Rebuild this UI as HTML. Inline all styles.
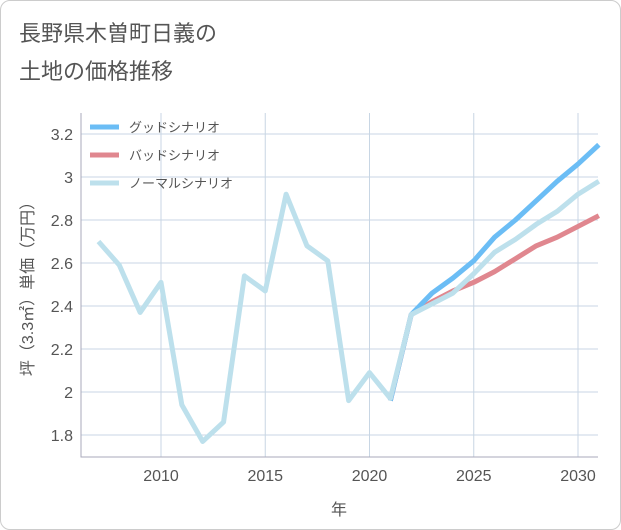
<!DOCTYPE html>
<html><head><meta charset="utf-8"><style>
body{margin:0;background:#fff;font-family:"Liberation Sans","Noto Sans CJK JP",sans-serif}
#wrap{position:relative;width:619px;height:528px;border:1px solid #ccc;border-radius:10px;background:#fff;overflow:hidden}
</style></head><body>
<div id="wrap">
<svg id="c" width="621" height="530"></svg>
</div>
<script>
const years=[2007,2008,2009,2010,2011,2012,2013,2014,2015,2016,2017,2018,2019,2020,2021,2022,2023,2024,2025,2026,2027,2028,2029,2030,2031];
const normal=[2.70,2.59,2.37,2.51,1.94,1.77,1.86,2.54,2.47,2.92,2.68,2.61,1.96,2.09,1.97,2.36,2.41,2.46,2.55,2.65,2.71,2.78,2.84,2.92,2.98];
const goodYears=[2021,2022,2023,2024,2025,2026,2027,2028,2029,2030,2031];
const good=[1.96,2.36,2.46,2.53,2.61,2.72,2.80,2.89,2.98,3.06,3.15];
const bad=[1.96,2.36,2.42,2.47,2.51,2.56,2.62,2.68,2.72,2.77,2.82];
const yTicks=[1.8,2,2.2,2.4,2.6,2.8,3,3.2];
const xTicks=[2010,2015,2020,2025,2030];
const NS="http://www.w3.org/2000/svg",svg=document.getElementById('c');
const L=80,R=597,T=112,B=456;
const x=v=>160+(v-2010)*(577-160)/20;
const y=v=>434-(v-1.8)*(434-133)/1.4;
function mk(t,a,p){const e=document.createElementNS(NS,t);for(const k in a)e.setAttribute(k,a[k]);(p||svg).appendChild(e);return e;}
const title=mk('text',{x:18,y:40,'font-size':22,fill:'#555'});


title.innerHTML='<tspan x="18" y="40">長野県木曽町日義の</tspan><tspan x="18" y="78">土地の価格推移</tspan>';
for(const t of yTicks){const g=mk('line',{x1:L,x2:R,y1:y(t),y2:y(t),stroke:'#c8d6e4'});


const tx=mk('text',{x:72,y:y(t)+6,'font-size':16,fill:'#555','text-anchor':'end'});tx.textContent=String(t);

}
for(const t of xTicks){const g=mk('line',{x1:x(t),x2:x(t),y1:T,y2:B,stroke:'#c8d6e4'});


const tx=mk('text',{x:x(t),y:480,'font-size':16,fill:'#555','text-anchor':'middle'});tx.textContent=t;

}
const ax=mk('path',{d:`M${L},${T}V${B}H${R}`,stroke:'#aab',fill:'none'});


const xt=mk('text',{x:338,y:514,'font-size':16,fill:'#555','text-anchor':'middle'});xt.textContent='年';


const yt=mk('text',{x:0,y:0,'font-size':16,fill:'#555','text-anchor':'middle',transform:'translate(32,284) rotate(-90)'});yt.textContent='坪（3.3㎡）単価（万円）';


function line(xs,vs,col,name){const d=xs.map((v,i)=>(i?'L':'M')+x(v)+','+y(vs[i])).join('');
const p=mk('path',{d,stroke:col,'stroke-width':5,fill:'none','stroke-linejoin':'round'});

}
line(goodYears,bad,'#e0878f','bad-scenario-line');
line(goodYears,good,'#6bbdf5','good-scenario-line');
line(years,normal,'#bde0ec','normal-scenario-line');
const leg=[['グッドシナリオ','#6bbdf5'],['バッドシナリオ','#e0878f'],['ノーマルシナリオ','#bde0ec']];
leg.forEach((e,i)=>{const yy=126+i*28;const l=mk('line',{x1:89,x2:118,y1:yy,y2:yy,stroke:e[1],'stroke-width':5});


const t=mk('text',{x:128,y:yy+5,'font-size':13,fill:'#555'});t.textContent=e[0];

});
</script>
</body></html>
